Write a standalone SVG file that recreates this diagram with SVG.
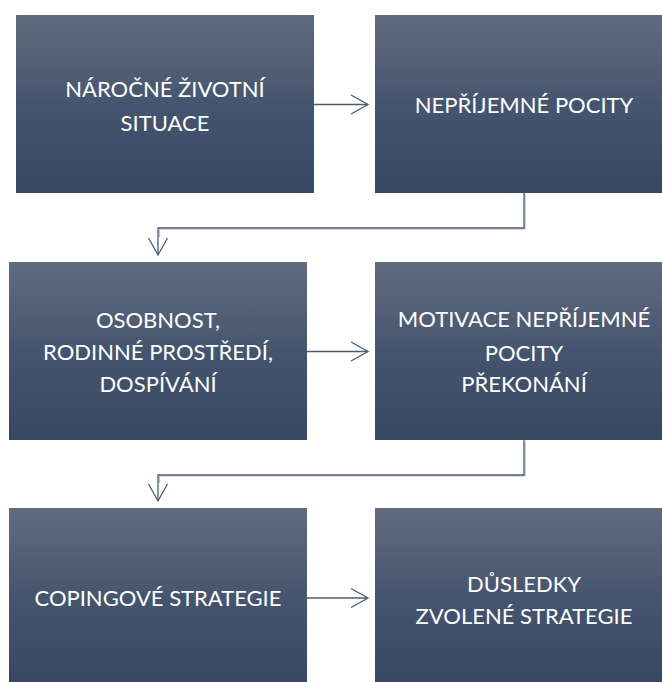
<svg xmlns="http://www.w3.org/2000/svg" width="662" height="682" viewBox="0 0 662 682">
  <style>
    .box { fill: url(#boxFill); }
    .label { font-family: "Lato", "Open Sans", "Liberation Sans", sans-serif; font-size: 22px; fill: #ffffff; text-anchor: middle; }
    .link { fill: none; stroke: #4d5c74; stroke-width: 1.3; }
    .shade { fill: none; stroke: #b3bbc7; stroke-width: 1.2; }
  </style>
  <defs>
    <linearGradient id="boxFill" x1="0" y1="0" x2="0" y2="1">
      <stop offset="0" stop-color="#606b7e"/>
      <stop offset="0.5" stop-color="#46556f"/>
      <stop offset="1" stop-color="#394862"/>
    </linearGradient>
    <marker id="chevron" markerUnits="userSpaceOnUse" markerWidth="22" markerHeight="22" refX="17" refY="9.5" orient="auto" overflow="visible">
      <path d="M0,0 L17,9.5 L0,19" fill="none" stroke="#4d5c74" stroke-width="1.3"/>
    </marker>
  </defs>

  <rect width="662" height="682" fill="#ffffff"/>

  <!-- connectors -->
  <g id="connectors">
    <!-- shading under the elbow links -->
    <path class="shade" d="M525,194 V229 H159.5 V237"/>
    <path class="shade" d="M525,441 V476 H159.5 V483"/>
    <line class="link" x1="314" y1="104.5" x2="368" y2="104.5" marker-end="url(#chevron)"/>
    <path class="link" d="M524,193 V228 H158 V255" marker-end="url(#chevron)"/>
    <line class="link" x1="307" y1="351.5" x2="368" y2="351.5" marker-end="url(#chevron)"/>
    <path class="link" d="M524,440 V475 H158 V501" marker-end="url(#chevron)"/>
    <line class="link" x1="307" y1="598" x2="368" y2="598" marker-end="url(#chevron)"/>
  </g>

  <g id="node-narocne">
    <rect class="box" x="16" y="15" width="298" height="178"/>
    <text class="label" x="165" y="97">NÁROČNÉ ŽIVOTNÍ</text>
    <text class="label" x="165" y="131">SITUACE</text>
  </g>

  <g id="node-neprijemne">
    <rect class="box" x="375" y="15" width="298" height="178"/>
    <text class="label" x="524" y="113">NEPŘÍJEMNÉ POCITY</text>
  </g>

  <g id="node-osobnost">
    <rect class="box" x="9" y="262" width="298" height="178"/>
    <text class="label" x="158" y="328">OSOBNOST,</text>
    <text class="label" x="158" y="360">RODINNÉ PROSTŘEDÍ,</text>
    <text class="label" x="158" y="392">DOSPÍVÁNÍ</text>
  </g>

  <g id="node-motivace">
    <rect class="box" x="375" y="262" width="298" height="178"/>
    <text class="label" x="524" y="327">MOTIVACE NEPŘÍJEMNÉ</text>
    <text class="label" x="524" y="361">POCITY</text>
    <text class="label" x="524" y="392">PŘEKONÁNÍ</text>
  </g>

  <g id="node-copingove">
    <rect class="box" x="9" y="508" width="298" height="178"/>
    <text class="label" x="158" y="606">COPINGOVÉ STRATEGIE</text>
  </g>

  <g id="node-dusledky">
    <rect class="box" x="375" y="508" width="298" height="178"/>
    <text class="label" x="524" y="592">DŮSLEDKY</text>
    <text class="label" x="524" y="624">ZVOLENÉ STRATEGIE</text>
  </g>
</svg>
